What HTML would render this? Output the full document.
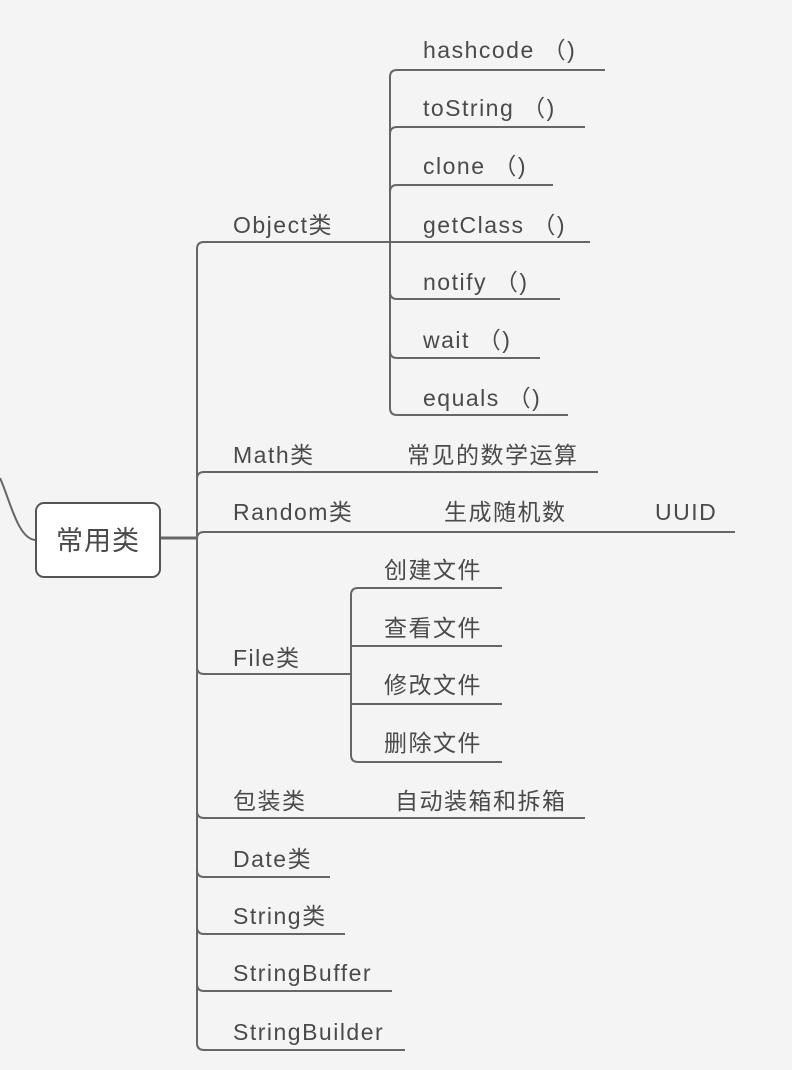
<!DOCTYPE html>
<html><head><meta charset="utf-8"><style>
html,body{margin:0;padding:0;background:#f4f4f4;}
svg{display:block}
text{font-family:"Liberation Sans","Noto Sans CJK SC",sans-serif;font-size:23px;letter-spacing:1.5px;fill:#4a4a4a;}
</style></head><body>
<svg width="792" height="1070" viewBox="0 0 792 1070" xmlns="http://www.w3.org/2000/svg">
<rect width="792" height="1070" fill="#f4f4f4"/>
<g fill="none" stroke="#666" stroke-width="2">
<path d="M0,478 C10,500 18,540 36,540"/>
<path d="M160,538 H197" stroke-width="3"/>
<path d="M197,1043 V249 Q197,242 204,242 H390"/>
<path d="M197,479 Q197,472 204,472 H598"/>
<path d="M197,539 Q197,532 204,532 H735"/>
<path d="M197,667 Q197,674 204,674 H351"/>
<path d="M197,811 Q197,818 204,818 H585"/>
<path d="M197,870 Q197,877 204,877 H330"/>
<path d="M197,927 Q197,934 204,934 H345"/>
<path d="M197,984 Q197,991 204,991 H392"/>
<path d="M197,1043 Q197,1050 204,1050 H405"/>
<path d="M390,408 V77 Q390,70 397,70 H605"/>
<path d="M390,134 Q390,127 397,127 H585"/>
<path d="M390,192 Q390,185 397,185 H553"/>
<path d="M390,242 H590"/>
<path d="M390,292 Q390,299 397,299 H560"/>
<path d="M390,351 Q390,358 397,358 H540"/>
<path d="M390,408 Q390,415 397,415 H568"/>
<path d="M351,755 V595 Q351,588 358,588 H502"/>
<path d="M351,646 H502"/>
<path d="M351,704 H502"/>
<path d="M351,755 Q351,762 358,762 H502"/>
</g>
<rect x="36" y="503" width="124" height="74" rx="8" fill="#fff" stroke="#555" stroke-width="2"/>
<text x="98" y="550" text-anchor="middle" style="font-size:27px;letter-spacing:1px">常用类</text>
<text x="423" y="58">hashcode （)</text>
<text x="423" y="116">toString （)</text>
<text x="423" y="174">clone （)</text>
<text x="423" y="233">getClass （)</text>
<text x="423" y="290">notify （)</text>
<text x="423" y="348">wait （)</text>
<text x="423" y="406">equals （)</text>
<text x="233" y="233">Object类</text>
<text x="233" y="463">Math类</text>
<text x="407" y="463">常见的数学运算</text>
<text x="233" y="520">Random类</text>
<text x="444" y="520">生成随机数</text>
<text x="655" y="520">UUID</text>
<text x="233" y="666">File类</text>
<text x="384" y="578">创建文件</text>
<text x="384" y="636">查看文件</text>
<text x="384" y="693">修改文件</text>
<text x="384" y="751">删除文件</text>
<text x="233" y="809">包装类</text>
<text x="395" y="809">自动装箱和拆箱</text>
<text x="233" y="867">Date类</text>
<text x="233" y="924">String类</text>
<text x="233" y="981">StringBuffer</text>
<text x="233" y="1040">StringBuilder</text>
</svg>
</body></html>
